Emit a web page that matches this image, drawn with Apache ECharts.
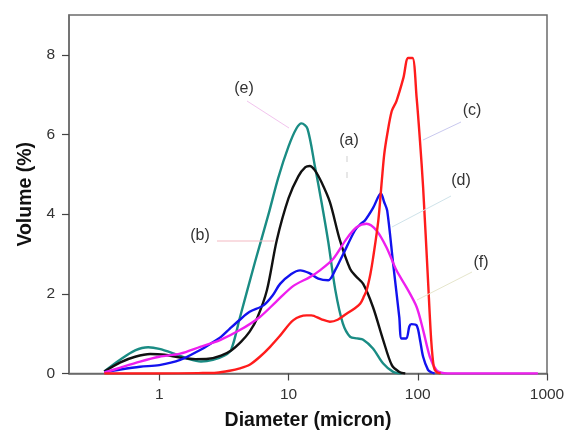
<!DOCTYPE html>
<html>
<head>
<meta charset="utf-8">
<script src="https://cdn.jsdelivr.net/npm/echarts@6/dist/echarts.min.js"></script>
<style>html,body{margin:0;padding:0;background:#fff}#c{width:565px;height:430px}</style>
</head>
<body>
<div id="c"></div>
<script>
// ---- data (diameter in micron, volume in %) ----
const xTicks = [1, 10, 100, 1000];
const yTicks = [0, 2, 4, 6, 8];

const dE = [0.375,0.5,0.65,0.82,1.0,1.3,1.7,2.1,2.6,3.2,3.6,4.2,5.5,7.0,8.3,10,11.5,12.6,14,16,18,20.3,23,26.3,30,34,37.8,45,54,64.5,75];
const vE = [0.05,0.35,0.58,0.66,0.62,0.5,0.36,0.3,0.34,0.45,0.6,1.4,2.8,4.0,4.9,5.7,6.15,6.28,6.15,5.2,4.3,3.3,2.1,1.26,0.92,0.88,0.85,0.63,0.25,0.04,0.0];

const dA = [0.375,0.5,0.65,0.85,1.1,1.45,1.9,2.4,3.0,3.6,4.3,5.0,5.7,6.8,8.1,10,11.9,13.5,14.6,16,18,20.9,25,29.9,33,37.8,45,54,63,72,80];
const vA = [0.05,0.28,0.42,0.49,0.47,0.40,0.36,0.37,0.45,0.58,0.8,1.05,1.38,2.09,3.34,4.4,4.95,5.18,5.21,5.1,4.8,4.3,3.34,2.63,2.45,2.25,1.67,0.84,0.21,0.04,0.0];

const dBlue = [0.375,0.5,0.71,1.0,1.45,2.07,2.5,3.0,3.5,4.2,5.0,6.4,7.5,8.6,10.5,12.3,14.5,17,20.3,23,26.5,32.6,36,39,45,51.8,55,58,64.5,71.9,74.9,81.5,86,89.3,98,104,110,120,127,135];
const vBlue = [0.03,0.1,0.17,0.21,0.34,0.59,0.75,0.92,1.12,1.35,1.55,1.71,1.95,2.25,2.5,2.59,2.52,2.38,2.34,2.6,3.0,3.59,3.75,3.84,4.15,4.52,4.3,4.09,2.75,1.42,0.88,0.88,1.18,1.24,1.21,0.85,0.42,0.09,0.03,0.0];

const dMag = [0.375,0.5,0.71,1.0,1.45,2.07,2.95,4.2,6.0,8.0,10.9,14.6,17.5,22.2,28.1,33.6,40.2,47.9,57.2,68.4,81.5,98,110,124,139,152,170,850];
const vMag = [0.02,0.15,0.3,0.42,0.5,0.67,0.84,1.09,1.42,1.8,2.2,2.42,2.59,2.88,3.38,3.67,3.76,3.59,3.17,2.59,2.17,1.67,1.09,0.42,0.09,0.02,0.0,0.0];

const dRed = [0.375,1.0,2.0,2.78,3.5,4.2,5.0,6.0,7.2,8.6,10.9,13.8,15,18,20.9,24,28.1,32,35.8,38.5,40.2,43,45.2,49.5,52.7,55,58,62.9,68.4,77.4,84.2,91,98,104,110,120,127,133,139,150];
const vRed = [0.0,0.0,0.01,0.02,0.07,0.13,0.22,0.42,0.67,0.95,1.34,1.46,1.46,1.36,1.3,1.35,1.5,1.62,1.75,1.95,2.09,2.5,2.92,3.84,4.84,5.5,6.0,6.59,6.84,7.42,7.92,7.92,6.92,5.84,4.67,2.34,0.84,0.17,0.04,0.0];

const labels = ['(a)','(b)','(c)','(d)','(e)','(f)'];

function pairs(xs, ys){ return xs.map((x,i)=>[x, ys[i]]); }

const chart = echarts.init(document.getElementById('c'), null, {renderer:'canvas'});
const axisColor = '#6b6b6b';
const FONT = '"Liberation Sans", Arial, sans-serif';
const lw = 2.4;
function line(name, xs, ys, color){
  return {name, type:'line', data:pairs(xs,ys), showSymbol:false, symbol:'none',
    smooth:0.3, lineStyle:{color, width:lw}, itemStyle:{color}, z:2};
}

// annotation layout (pixels)
const ann = [
  {t:labels[4], x:244, y:89,  l:[247,101,289,128], c:'#f2c4ee', dash:null},
  {t:labels[0], x:349, y:141, l:[347,156,347,184], c:'#cfcfcf', dash:[6,10]},
  {t:labels[2], x:472, y:111, l:[461,122,423,140], c:'#c9c9ef', dash:null},
  {t:labels[3], x:461, y:181, l:[451,196,392,227], c:'#cfe3ea', dash:null},
  {t:labels[1], x:200, y:236, l:[217,241,274,241], c:'#f3b9c2', dash:null},
  {t:labels[5], x:481, y:263, l:[472,272,417,300], c:'#e6e6cc', dash:null}
];
const graphic = [];
ann.forEach(a=>{
  graphic.push({type:'text', x:a.x, y:a.y, style:{text:a.t, x:0, y:0, align:'center', verticalAlign:'middle', font:'16px ' + FONT, fill:'#333'}, z:10});
  graphic.push({type:'line', shape:{x1:a.l[0], y1:a.l[1], x2:a.l[2], y2:a.l[3]}, style:{stroke:a.c, lineWidth:1, lineDash:a.dash}, z:9});
});

chart.setOption({
  animation:false,
  backgroundColor:'#fff',
  grid:{left:69, right:18, top:15, bottom:56.5, containLabel:false, outerBoundsMode:'none',
    show:true, borderColor:axisColor, borderWidth:1.5, backgroundColor:'transparent'},
  xAxis:{type:'log', logBase:10, min:0.2, max:1000,
    name:'Diameter (micron)', nameLocation:'middle', nameGap:37,
    nameTextStyle:{fontSize:19.5, fontWeight:'bold', color:'#111', fontFamily:FONT},
    axisLine:{show:true, lineStyle:{color:axisColor, width:1.5}},
    axisTick:{show:true, inside:false, length:7, lineStyle:{color:'#444', width:1.2}, customValues:xTicks},
    axisLabel:{customValues:xTicks, margin:13, fontSize:15.5, color:'#333', fontFamily:FONT,
      formatter:(v)=>String(Math.round(v))},
    splitLine:{show:false}, minorTick:{show:false}},
  yAxis:{type:'value', min:0, max:9,
    name:'Volume (%)', nameLocation:'middle', nameGap:33,
    nameTextStyle:{fontSize:19.5, fontWeight:'bold', color:'#111', fontFamily:FONT},
    axisLine:{show:true, lineStyle:{color:axisColor, width:1.5}},
    axisTick:{show:true, inside:false, length:7, lineStyle:{color:'#444', width:1.2}, customValues:yTicks},
    axisLabel:{customValues:yTicks, margin:14, fontSize:15.5, color:'#333', fontFamily:FONT},
    splitLine:{show:false}},
  series:[
    line('e', dE, vE, '#1a8c84'),
    line('a', dA, vA, '#111111'),
    line('blue', dBlue, vBlue, '#1212ee'),
    line('magenta', dMag, vMag, '#ee1fee'),
    line('c', dRed, vRed, '#ff1c1c')
  ],
  graphic:graphic
});
</script>
</body>
</html>
